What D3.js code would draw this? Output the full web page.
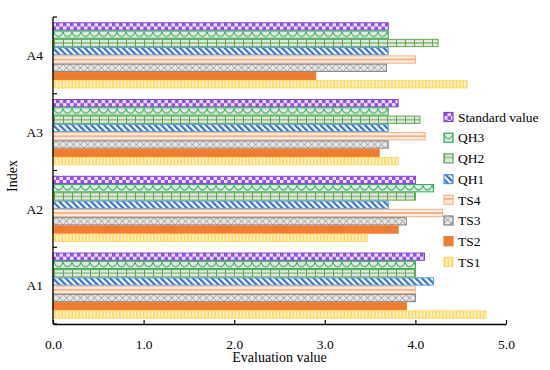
<!doctype html>
<html lang="en">
  <head>
    <title>Evaluation value by index</title>
    <style>
      body { margin: 0; background: #fff; }
      text { font-family: "Liberation Serif", "Times New Roman", serif; fill: #000; }
    </style>
  </head>
  <body>
    <svg id="chart" width="550" height="370"></svg>
    <script src="https://cdn.jsdelivr.net/npm/d3@7"></script>
    <script>
      // categories top to bottom as drawn
      var categories = ["A4", "A3", "A2", "A1"];
      // series, top to bottom inside each group (same as legend order)
      var seriesNames = ["Standard value", "QH3", "QH2", "QH1", "TS4", "TS3", "TS2", "TS1"];

      // values per category, in seriesNames order
      var valuesA4 = [3.70, 3.70, 4.25, 3.70, 4.00, 3.68, 2.90, 4.57];
      var valuesA3 = [3.81, 3.70, 4.05, 3.70, 4.11, 3.70, 3.60, 3.81];
      var valuesA2 = [4.00, 4.20, 4.00, 3.70, 4.30, 3.90, 3.81, 3.47];
      var valuesA1 = [4.10, 4.00, 4.00, 4.20, 4.00, 4.00, 3.90, 4.78];
      var xTicks = [0, 1, 2, 3, 4, 5];

      var valuesByCat = { "A4": valuesA4, "A3": valuesA3, "A2": valuesA2, "A1": valuesA1 };

      var svg = d3.select("#chart");
      var mLeft = 53, mRight = 506, mTop = 17, mBottom = 324;

      var x = d3.scaleLinear().domain([0, 5]).range([mLeft, mRight]);
      var y0 = d3.scaleBand().domain(categories).range([mTop, mBottom]).padding(0);
      var y1 = d3.scaleBand().domain(seriesNames).range([0, y0.bandwidth()])
          .paddingInner(0.12).paddingOuter(0.7);
      var bh = y1.bandwidth();

      // ---- patterns ----
      var defs = svg.append("defs");
      function pat(id, w, h) {
          return defs.append("pattern").attr("id", id)
              .attr("patternUnits", "userSpaceOnUse")
              .attr("width", w).attr("height", h);
      }

      // Standard value: purple checker
      var p = pat("p-std", 7, bh);
      p.append("rect").attr("width", 7).attr("height", bh).attr("fill", "#ece3fb");
      p.append("rect").attr("width", 3.5).attr("height", bh / 2).attr("fill", "#9150e6");
      p.append("rect").attr("x", 3.5).attr("y", bh / 2).attr("width", 3.5).attr("height", bh / 2).attr("fill", "#9150e6");

      // QH3: green scallops on gray
      p = pat("p-qh3", 9, bh);
      p.append("rect").attr("width", 9).attr("height", bh).attr("fill", "#e6e6e6");
      p.append("path").attr("d", "M0,0.5 Q1,5 4.5,5.5 Q8,5 9,0.5")
          .attr("fill", "none").attr("stroke", "#22b24c").attr("stroke-width", 1);

      // QH2: green grid on gray
      p = pat("p-qh2", 9, bh);
      p.append("rect").attr("width", 9).attr("height", bh).attr("fill", "#e6e6e6");
      p.append("line").attr("x1", 0.5).attr("x2", 0.5).attr("y1", 0).attr("y2", bh)
          .attr("stroke", "#5aa845").attr("stroke-width", 1);
      p.append("line").attr("x1", 0).attr("x2", 9).attr("y1", bh / 2).attr("y2", bh / 2)
          .attr("stroke", "#5aa845").attr("stroke-width", 1);

      // QH1: blue diagonal stripes ("\" direction)
      p = pat("p-qh1", 4.5, 4.5).attr("patternTransform", "rotate(-45)");
      p.append("rect").attr("width", 4.5).attr("height", 4.5).attr("fill", "#ffffff");
      p.append("rect").attr("width", 2.2).attr("height", 4.5).attr("fill", "#2f6fd2");

      // TS4: salmon horizontal line
      p = pat("p-ts4", 4, bh);
      p.append("rect").attr("width", 4).attr("height", bh).attr("fill", "#fdeee4");
      p.append("rect").attr("y", bh / 2 - 0.9).attr("width", 4).attr("height", 1.8).attr("fill", "#f4b183");

      // TS3: gray cross hatch
      p = pat("p-ts3", 7, bh);
      p.append("rect").attr("width", 7).attr("height", bh).attr("fill", "#e8e8e8");
      p.append("path").attr("d", "M0,0 L7," + bh + " M7,0 L0," + bh)
          .attr("stroke", "#8c8c8c").attr("stroke-width", 0.8).attr("fill", "none");

      // TS1: yellow vertical stripes
      p = pat("p-ts1", 3.4, bh);
      p.append("rect").attr("width", 3.4).attr("height", bh).attr("fill", "#fff6dc");
      p.append("rect").attr("width", 1.9).attr("height", bh).attr("fill", "#ffd966");

      var fills = ["url(#p-std)", "url(#p-qh3)", "url(#p-qh2)", "url(#p-qh1)",
                   "url(#p-ts4)", "url(#p-ts3)", "#ed7d31", "url(#p-ts1)"];
      var strokes = ["#8040d8", "#22b24c", "#5aa845", "#5b9bd5",
                     "#f4b183", "#7f7f7f", "#ed7d31", "#ffd966"];

      // ---- bars ----
      var groups = svg.selectAll("g.cat").data(categories).enter().append("g")
          .attr("class", "cat")
          .attr("transform", function (c) { return "translate(0," + y0(c) + ")"; });

      groups.each(function (c) {
          var vals = valuesByCat[c];
          d3.select(this).selectAll("g.bar").data(seriesNames).enter().append("g")
              .attr("class", "bar")
              .attr("transform", function (s) { return "translate(0," + y1(s) + ")"; })
              .append("rect")
              .attr("x", x(0))
              .attr("y", 0)
              .attr("width", function (s, i) { return x(vals[i]) - x(0); })
              .attr("height", bh)
              .attr("fill", function (s, i) { return fills[i]; })
              .attr("stroke", function (s, i) { return strokes[i]; })
              .attr("stroke-width", 1);
      });

      // ---- x axis ----
      var xAxis = d3.axisBottom(x).tickValues(xTicks).tickFormat(d3.format(".1f"))
          .tickSize(-4).tickSizeOuter(0).tickPadding(15);
      var gx = svg.append("g").attr("transform", "translate(0," + mBottom + ")").call(xAxis);
      gx.select(".domain").attr("stroke", "#000").attr("stroke-width", 1.3);
      gx.selectAll(".tick line").attr("stroke", "#000").attr("stroke-width", 1.2);
      gx.selectAll("text").style("font-family", "Liberation Serif").style("font-size", "13.5px");

      svg.append("text").attr("x", (mLeft + mRight) / 2).attr("y", 362)
          .attr("text-anchor", "middle").style("font-size", "14px").text("Evaluation value");

      // ---- y axis ----
      var gy = svg.append("g");
      gy.append("line").attr("x1", mLeft).attr("x2", mLeft).attr("y1", mTop).attr("y2", mBottom)
          .attr("stroke", "#000").attr("stroke-width", 1.3);
      var bounds = categories.map(function (c) { return y0(c); }).concat([mBottom]);
      gy.selectAll("line.tk").data(bounds).enter().append("line").attr("class", "tk")
          .attr("x1", mLeft).attr("x2", mLeft + 4)
          .attr("y1", function (d) { return d; }).attr("y2", function (d) { return d; })
          .attr("stroke", "#000").attr("stroke-width", 1.2);
      gy.selectAll("text.cl").data(categories).enter().append("text").attr("class", "cl")
          .attr("x", 43).attr("y", function (c) { return y0(c) + y0.bandwidth() / 2; })
          .attr("dy", "0.35em").attr("text-anchor", "end")
          .style("font-size", "13.5px").text(function (c) { return c; });

      svg.append("text").attr("transform", "translate(17,176) rotate(-90)")
          .attr("text-anchor", "middle").style("font-size", "14px").text("Index");

      // ---- legend ----
      var legend = svg.selectAll("g.leg").data(seriesNames).enter().append("g")
          .attr("class", "leg")
          .attr("transform", function (s, i) { return "translate(444," + (112.5 + i * 20.7) + ")"; });
      legend.append("rect").attr("width", 9).attr("height", 9)
          .attr("fill", function (s, i) { return fills[i]; })
          .attr("stroke", function (s, i) { return strokes[i]; })
          .attr("stroke-width", 1.2);
      legend.append("text").attr("x", 14).attr("y", 4.5).attr("dy", "0.35em")
          .style("font-size", "13.5px").text(function (s) { return s; });
    </script>
  </body>
</html>
